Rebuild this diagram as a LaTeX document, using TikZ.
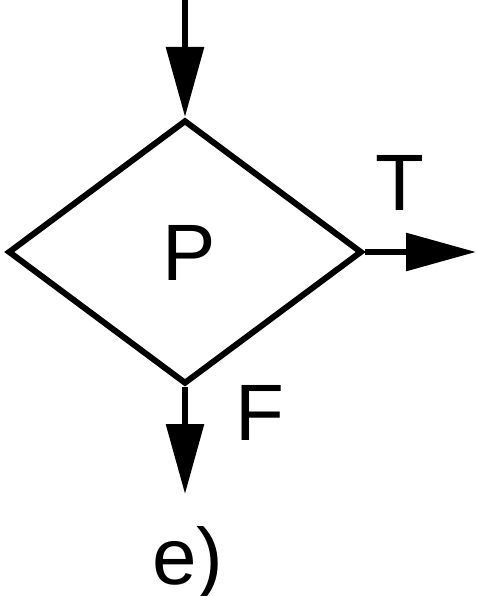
\documentclass[tikz,border=0pt]{standalone}
\usepackage{fontspec}
\setmainfont{Liberation Sans}
\usetikzlibrary{shapes.geometric,arrows.meta}
\begin{document}
\begin{tikzpicture}[x=1pt,y=-1pt,
  line width=6pt,
  lbl/.style={inner sep=0pt,anchor=base,font=\fontsize{80}{80}\selectfont},
  flow/.style={-{Triangle[length=70pt,width=37pt]}},
  dec/.style={draw,diamond,inner sep=0pt,minimum width=354pt,minimum height=264pt}]
\useasboundingbox[fill=white] (0,0) rectangle (476,596);
\node[dec] (d) at (185,252) {};
\node[lbl] (p) at (189,280) {P};
\coordinate (in) at (185,0);
\coordinate (tout) at (476,252);
\coordinate (fout) at (185,494);
\draw[flow] (in) -- (d.north);
\draw[flow] (d.east) -- (tout);
\draw[flow] (d.south) -- (fout);
\node[lbl] (t) at (400,210) {T};
\node[lbl] (f) at (260,440) {F};
\node[lbl] (e) at (188,584) {e)};
\end{tikzpicture}
\end{document}
